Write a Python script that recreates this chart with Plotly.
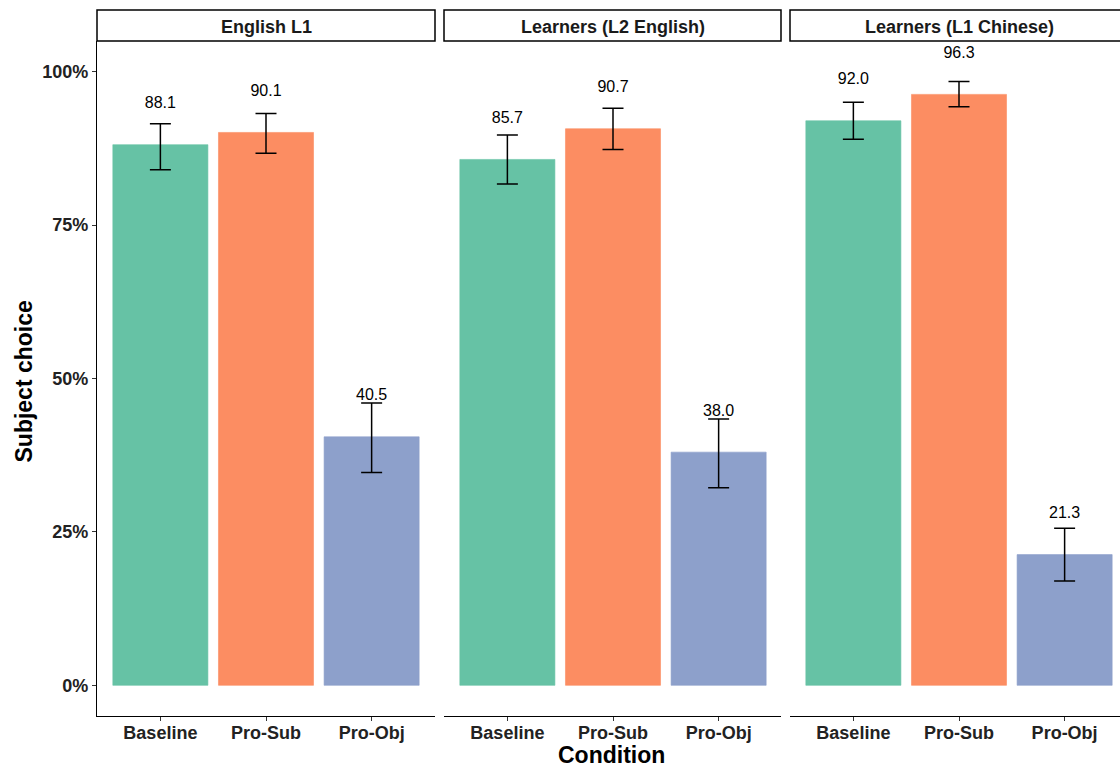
import plotly.graph_objects as go

W, H = 1120, 767

groups = ["English L1", "Learners (L2 English)", "Learners (L1 Chinese)"]
conditions = ["Baseline", "Pro-Sub", "Pro-Obj"]
colors = ["#66C2A5", "#FC8D62", "#8DA0CB"]

values = {
    "English L1": [88.1, 90.1, 40.5],
    "Learners (L2 English)": [85.7, 90.7, 38.0],
    "Learners (L1 Chinese)": [92.0, 96.3, 21.3],
}
err_upper = {
    "English L1": [91.5, 93.2, 46.0],
    "Learners (L2 English)": [89.7, 94.05, 43.4],
    "Learners (L1 Chinese)": [95.0, 98.4, 25.6],
}
err_lower = {
    "English L1": [84.0, 86.7, 34.7],
    "Learners (L2 English)": [81.7, 87.3, 32.2],
    "Learners (L1 Chinese)": [89.0, 94.3, 17.0],
}
ytick_vals = [0, 25, 50, 75, 100]
ytick_text = ["0%", "25%", "50%", "75%", "100%"]
label_offset = 6.6

FONT = "Liberation Sans, Arial, sans-serif"

# panel pixel extents (left, right)
panels_px = [(97, 435), (444, 781), (790, 1120)]
px_per_unit = 338 / 3.2
plot_top, plot_bottom = 41, 716
strip_top = 10

def px_x(p):
    return p / W

def px_y(p):
    return 1 - p / H

fig = go.Figure()
layout = dict(
    width=W, height=H,
    margin=dict(l=0, r=0, t=0, b=0),
    paper_bgcolor="white", plot_bgcolor="white",
    showlegend=False,
    font=dict(family=FONT, color="black"),
)

shapes = []
annotations = []
for i, g in enumerate(groups):
    n = "" if i == 0 else str(i + 1)
    xa, ya = "x" + n, "y" + n
    l, r = panels_px[i]
    vals = values[g]
    up = [u - v for u, v in zip(err_upper[g], vals)]
    dn = [v - d for d, v in zip(err_lower[g], vals)]
    fig.add_trace(go.Bar(
        x=conditions, y=vals, width=0.9,
        marker=dict(color=colors, line=dict(color=colors, width=0.6)),
        error_y=dict(type="data", array=up, arrayminus=dn, color="black",
                     thickness=1.5, width=10.5),
        xaxis=xa, yaxis=ya, hoverinfo="skip",
    ))
    fig.add_trace(go.Scatter(
        x=conditions, y=[v + label_offset for v in vals],
        text=[f"{v:.1f}" for v in vals], mode="text",
        textfont=dict(family=FONT, size=16, color="black"),
        textposition="middle center",
        xaxis=xa, yaxis=ya, hoverinfo="skip",
    ))
    xmax = -0.6 + (r - l) / px_per_unit
    layout["xaxis" + n] = dict(
        domain=[px_x(l), px_x(r)], anchor=ya,
        type="category", categoryorder="array", categoryarray=conditions,
        range=[-0.6, xmax],
        showline=True, linecolor="black", linewidth=1.3,
        ticks="outside", ticklen=4, tickwidth=1.2, tickcolor="#333333",
        ticklabelstandoff=-4,
        tickfont=dict(family=FONT, size=18, color="#222222", weight="bold"),
        showgrid=False, zeroline=False, fixedrange=True,
    )
    layout["yaxis" + n] = dict(
        domain=[px_y(plot_bottom), px_y(plot_top)], anchor=xa,
        range=[-5, 105],
        showline=(i == 0), linecolor="black", linewidth=1.3,
        ticks="outside" if i == 0 else "", ticklen=4, tickwidth=1.2, tickcolor="#333333",
        tickvals=ytick_vals, ticktext=ytick_text, showticklabels=(i == 0),
        tickfont=dict(family=FONT, size=18, color="#222222", weight="bold"),
        showgrid=False, zeroline=False, fixedrange=True,
    )
    x1 = r if i < 2 else l + 338
    shapes.append(dict(type="rect", xref="paper", yref="paper",
                       x0=px_x(l), x1=px_x(x1), y0=px_y(plot_top), y1=px_y(strip_top),
                       line=dict(color="black", width=1.5), fillcolor="white", layer="below"))
    annotations.append(dict(text=g, xref="paper", yref="paper",
                            x=px_x((l + x1) / 2), y=px_y((plot_top + strip_top) / 2 + 1.5),
                            showarrow=False, xanchor="center", yanchor="middle",
                            font=dict(family=FONT, size=18, color="#1a1a1a", weight="bold")))

annotations.append(dict(text="Subject choice", xref="paper", yref="paper",
                        x=px_x(23), y=px_y((plot_top + plot_bottom) / 2 + 3),
                        textangle=-90, showarrow=False, xanchor="center", yanchor="middle",
                        font=dict(family=FONT, size=23, color="black", weight="bold")))
annotations.append(dict(text="Condition", xref="paper", yref="paper",
                        x=px_x(612), y=px_y(755),
                        showarrow=False, xanchor="center", yanchor="middle",
                        font=dict(family=FONT, size=23, color="black", weight="bold")))

layout["shapes"] = shapes
layout["annotations"] = annotations
fig.update_layout(**layout)
fig.write_html("out.html", config={"displayModeBar": False})
